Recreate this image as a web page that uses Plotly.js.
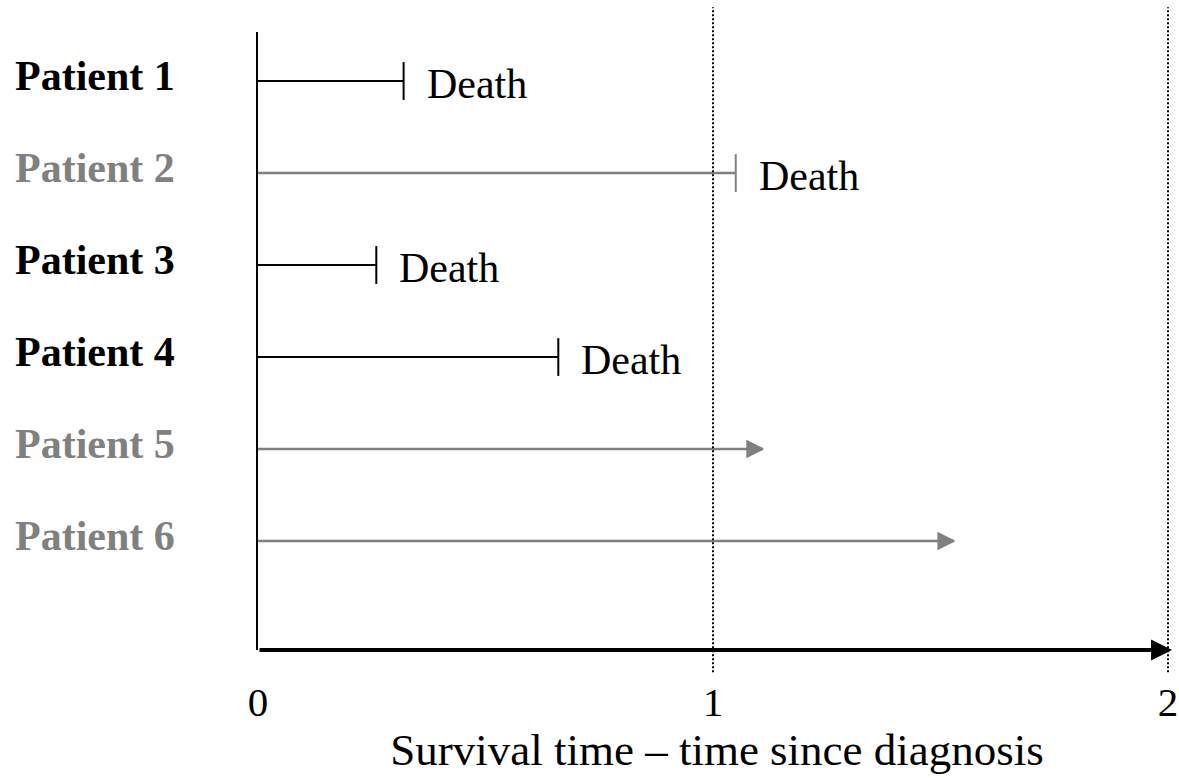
<!DOCTYPE html>
<html><head><meta charset="utf-8">
<script src="https://cdn.plot.ly/plotly-3.0.1.min.js"></script>
<style>html,body{margin:0;padding:0;background:#fff}</style>
</head><body><div id="chart" style="width:1179px;height:778px"></div>
<script>
// ---- data ----
const patients = ['Patient 1', 'Patient 2', 'Patient 3', 'Patient 4', 'Patient 5', 'Patient 6'];
const survivalTime = [0.32, 1.05, 0.26, 0.66, 1.11, 1.53];
const died = [true, true, true, true, false, false];
const eventLabel = 'Death';
const xTickVals = [0, 1, 2];
const xTickText = ['0', '1', '2'];
const refYears = [1, 2];
const xTitle = 'Survival time \u2013 time since diagnosis';

// ---- style ----
const FONT = 'Liberation Serif, Times New Roman, serif';
const BLACK = '#000000', GRAY = '#808080';
const rows = patients.map((_, i) => i + 1);
const colorOf = i => survivalTime[i] > 1 ? GRAY : BLACK;

const traces = [];
patients.forEach((p, i) => {
  const c = colorOf(i);
  traces.push({
    x: [0, survivalTime[i]], y: [rows[i], rows[i]], mode: 'lines',
    line: {color: c, width: c === GRAY ? 2.5 : 2}, hoverinfo: 'skip', showlegend: false, cliponaxis: false
  });
  traces.push({
    x: [survivalTime[i]], y: [rows[i]], mode: 'markers', hoverinfo: 'skip', showlegend: false, cliponaxis: false,
    marker: died[i]
      ? {symbol: 'line-ns', size: 27, color: c, line: {color: c, width: 2}}
      : {symbol: 'arrow-right', size: 16, color: c, line: {color: c, width: 1.5}}
  });
});

const annotations = [];
patients.forEach((p, i) => {
  annotations.push({
    x: 0, y: rows[i], xref: 'x', yref: 'y', text: p, showarrow: false,
    xanchor: 'right', yanchor: 'middle', xshift: -81, yshift: 5,
    font: {family: FONT, size: 42, color: colorOf(i), weight: 'bold'}
  });
  if (died[i]) {
    annotations.push({
      x: survivalTime[i], y: rows[i], xref: 'x', yref: 'y', text: eventLabel, showarrow: false,
      xanchor: 'left', yanchor: 'middle', xshift: 21, yshift: -3,
      font: {family: FONT, size: 42, color: BLACK}
    });
  }
});
// x-axis arrow
annotations.push({
  x: 2.009, y: 0, xref: 'x', yref: 'paper', ax: 0, ay: 0, axref: 'x', ayref: 'pixel',
  text: '', showarrow: true, arrowhead: 2, arrowsize: 1.05, arrowwidth: 4, arrowcolor: BLACK, standoff: 0
});

const shapes = refYears.map(v => ({
  type: 'line', xref: 'x', yref: 'paper', x0: v, x1: v, y0: -0.036, y1: 1.04,
  line: {color: BLACK, width: 2, dash: '2px,2px'}
}));

const layout = {
  width: 1179, height: 778,
  margin: {l: 258, r: 3, t: 32, b: 128},
  paper_bgcolor: '#fff', plot_bgcolor: '#fff',
  showlegend: false,
  font: {family: FONT, color: BLACK},
  xaxis: {
    range: [0, 2.0176], showgrid: false, zeroline: false, showline: false,
    tickvals: xTickVals, ticktext: xTickText, ticks: '',
    tickfont: {family: FONT, size: 41, color: BLACK},
    ticklabelstandoff: 24,
    title: {text: xTitle, font: {family: FONT, size: 45, color: BLACK}, standoff: 6}
  },
  yaxis: {
    range: [7.185, 0.467], showgrid: false, zeroline: false,
    showline: true, linecolor: BLACK, linewidth: 2,
    showticklabels: false, ticks: ''
  },
  annotations: annotations,
  shapes: shapes
};

Plotly.newPlot('chart', traces, layout, {staticPlot: true, displayModeBar: false});
</script></body></html>
